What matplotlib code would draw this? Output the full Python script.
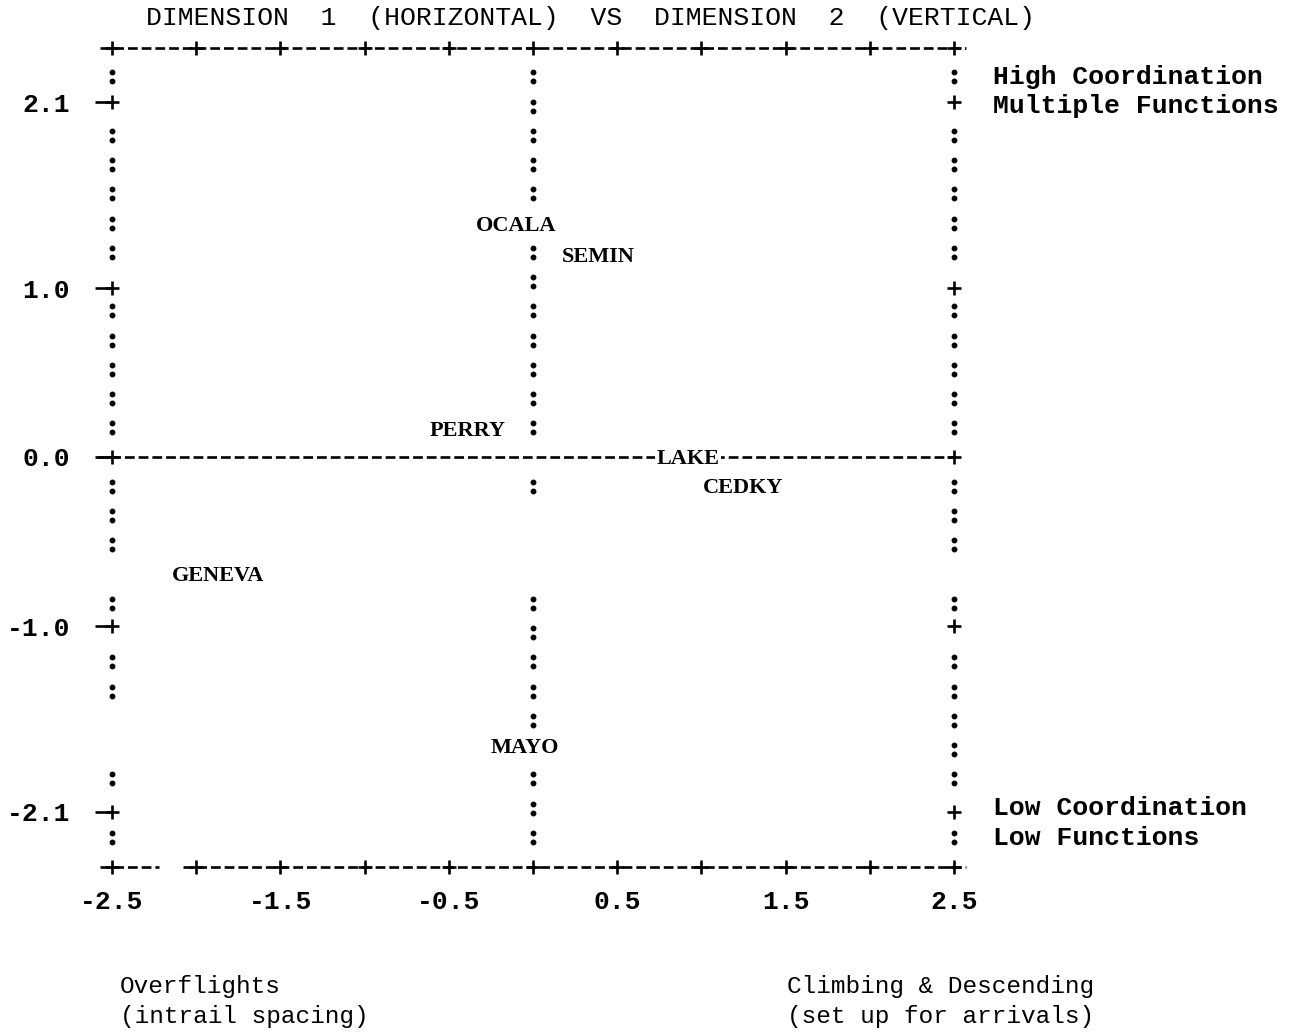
import matplotlib
matplotlib.use('Agg')
import matplotlib.pyplot as plt
from matplotlib.transforms import offset_copy
import numpy as np

# ---- data ----
names = ['OCALA', 'SEMIN', 'PERRY', 'LAKE', 'CEDKY', 'GENEVA', 'MAYO']
dim1 = [-0.10, 0.39, -0.39, 0.92, 1.25, -1.87, -0.05]
dim2 = [1.38, 1.20, 0.17, 0.00, -0.17, -0.69, -1.71]

xtick_values = [-2.5, -1.5, -0.5, 0.5, 1.5, 2.5]
xtick_labels = ['-2.5', '-1.5', '-0.5', '0.5', '1.5', '2.5']
ytick_values = [2.1, 1.0, 0.0, -1.0, -2.1]
ytick_labels = ['2.1', '1.0', '0.0', '-1.0', '-2.1']

title = 'DIMENSION  1  (HORIZONTAL)  VS  DIMENSION  2  (VERTICAL)'
high_labels = ['High Coordination', 'Multiple Functions']
low_labels = ['Low Coordination', 'Low Functions']
left_note = ['Overflights', '(intrail spacing)']
right_note = ['Climbing & Descending', '(set up for arrivals)']

MONO = 'Liberation Mono'
SERIF = 'Liberation Serif'
MW = 'bold'

W, H = 1302, 1032
fig = plt.figure(figsize=(W / 100, H / 100), dpi=100)
fig.patch.set_facecolor('white')

ROW = 29.25 / 169.0          # height of one printer line in data units
ax = fig.add_axes([112 / W, (H - 866.5) / H, 842 / W, 819 / H])
ax.set_xlim(-2.5, 2.5)
ax.set_ylim(-14 * ROW, 14 * ROW)
for s in ax.spines.values():
    s.set_visible(False)
ax.set_facecolor('none')

ax.set_xticks(xtick_values, xtick_labels)
ax.set_yticks(ytick_values, ytick_labels)
ax.tick_params(axis='both', length=0, labelsize=19)
ax.tick_params(axis='y', pad=30)
ax.tick_params(axis='x', pad=17)
for lab in ax.get_xticklabels() + ax.get_yticklabels():
    lab.set_fontfamily(MONO)
    lab.set_fontweight(MW)

K = 'black'
DASH = (0, (3.7, 1.5))
LW = 1.9
PLUS = dict(marker='+', ms=9.5, mew=1.9, color=K, ls='none', clip_on=False)

ytop, ybot = 14 * ROW, -14 * ROW
grid_x = np.arange(-2.5, 2.51, 0.5)

# top border
ax.plot([-2.57, 2.57], [ytop, ytop], ls=DASH, lw=LW, color=K, clip_on=False, dash_capstyle='butt')
ax.plot(grid_x, [ytop] * len(grid_x), **PLUS)
# bottom border (with the gap of the original print)
ax.plot([-2.57, -2.22], [ybot, ybot], ls=DASH, lw=LW, color=K, clip_on=False, dash_capstyle='butt')
ax.plot([-2.08, 2.57], [ybot, ybot], ls=DASH, lw=LW, color=K, clip_on=False, dash_capstyle='butt')
ax.plot(grid_x, [ybot] * len(grid_x), **PLUS)

# zero line
ax.plot([-2.59, 2.5], [0, 0], ls=DASH, lw=LW, color=K, clip_on=False, dash_capstyle='butt')

# side ticks
for y in ytick_values:
    ax.plot([-2.6, -2.5], [y, y], lw=LW, color=K, clip_on=False, solid_capstyle='butt')
    ax.plot([-2.5, 2.5], [y, y], **PLUS)

# dotted ':' columns
DOT = 4.5 / 169.0
def colon_column(x, rows):
    ys = []
    for r in rows:
        ys += [r * ROW + DOT, r * ROW - DOT]
    ax.plot([x] * len(ys), ys, 'o', ms=3.2, color=K, mec=K, clip_on=False)

left_rows = [13, 11, 10, 9, 8, 7, 5, 4, 3, 2, 1, -1, -2, -3, -5, -7, -8, -11, -13]
right_rows = [13, 11, 10, 9, 8, 7, 5, 4, 3, 2, 1, -1, -2, -3, -5, -7, -8, -9, -10, -11, -13]
center_rows = [13, 12, 11, 10, 9, 7, 6, 5, 4, 3, 2, 1, -1, -5, -6, -7, -8, -9, -11, -12, -13]
colon_column(-2.5, left_rows)
colon_column(2.5, right_rows)
colon_column(0.0, center_rows)

# point labels
lab_tr = offset_copy(ax.transData, fig=fig, y=-5.3, units='points')
for n, x, y in zip(names, dim1, dim2):
    kw = {}
    if n == 'LAKE':
        kw['bbox'] = dict(boxstyle='square,pad=0.05', fc='white', ec='none')
    ax.text(x, y, n, transform=lab_tr, ha='center', va='baseline',
            fontfamily=SERIF, fontweight='bold', fontsize=16, zorder=5, **kw)

# right-side annotations
side_tr = offset_copy(ax.transData, fig=fig, x=28, y=-5.3, units='points')
for r, t in zip([13, 12], high_labels):
    ax.text(2.5, r * ROW, t, transform=side_tr, ha='left', va='baseline',
            fontfamily=MONO, fontweight=MW, fontsize=19, clip_on=False)
for r, t in zip([-12, -13], low_labels):
    ax.text(2.5, r * ROW, t, transform=side_tr, ha='left', va='baseline',
            fontfamily=MONO, fontweight=MW, fontsize=19, clip_on=False)

# title
fig.text(591 / W, 1 - 18 / H, title, ha='center', va='center', fontfamily=MONO,
         fontweight='normal', fontsize=19)

# bottom notes
for i, t in enumerate(left_note):
    fig.text(120 / W, 1 - (987 + 30 * i) / H, t, ha='left', va='center', fontfamily=MONO,
             fontweight='normal', fontsize=17.6)
for i, t in enumerate(right_note):
    fig.text(787 / W, 1 - (987 + 30 * i) / H, t, ha='left', va='center', fontfamily=MONO,
             fontweight='normal', fontsize=17.6)

fig.savefig('out.png', dpi=100, facecolor='white')
